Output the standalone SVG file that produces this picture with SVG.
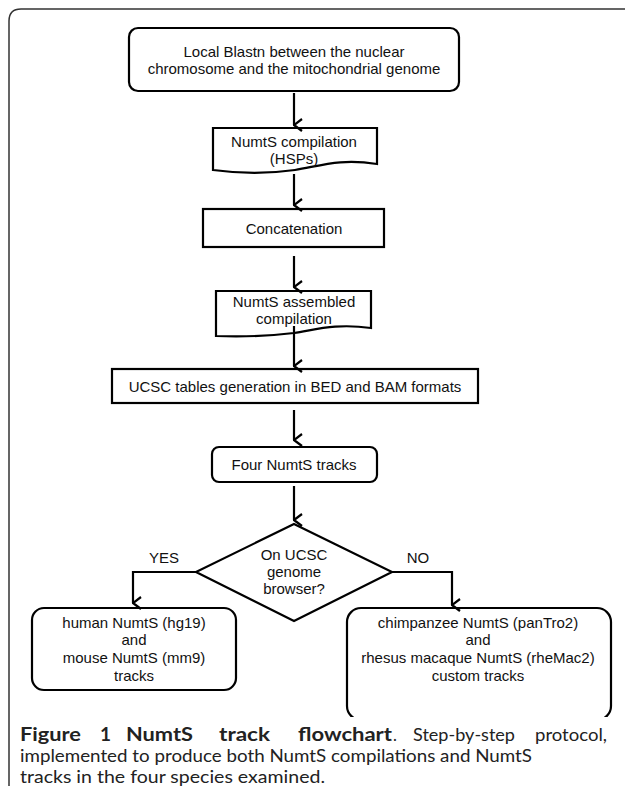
<svg xmlns="http://www.w3.org/2000/svg" width="625" height="786" viewBox="0 0 625 786">
<defs>
<marker id="arr" viewBox="0 0 14 12" refX="7" refY="11" markerWidth="14" markerHeight="12" markerUnits="userSpaceOnUse" orient="auto-start-reverse">
<polyline points="1,3 7,11 13,3" fill="none" stroke="#000" stroke-width="2.2"/>
</marker>
<clipPath id="clipChimp"><rect x="0" y="0" width="625" height="717"/></clipPath>
</defs>
<style>
.box{fill:#fff;stroke:#000;stroke-width:2.2}
.t{font-family:"Liberation Sans",Arial,sans-serif;font-size:15px;fill:#111;text-anchor:middle}
.c{stroke:#000;stroke-width:2.2;fill:none}
.cap{font-family:Lato,"Open Sans",sans-serif;font-size:16.5px;fill:#222}
.capb{font-weight:bold;font-size:19px}
</style>
<rect width="625" height="786" fill="#fff"/>
<path d="M9,786 V21 Q9,9 21,9 H640" fill="none" stroke="#333" stroke-width="1.5"/>

<g id="n1">
<rect class="box" x="129" y="28" width="330" height="63" rx="9"/>
<text class="t" x="294" y="57">Local Blastn between the nuclear</text>
<text class="t" x="294" y="74">chromosome and the mitochondrial genome</text>
</g>
<g id="n2">
<path class="box" d="M213,128 H377 V164 C340,158 320,166 295,170 C260,175 235,173 213,170 Z"/>
<text class="t" x="294" y="147">NumtS compilation</text>
<text class="t" x="294" y="164">(HSPs)</text>
</g>
<g id="n3">
<rect class="box" x="203" y="209" width="181" height="38"/>
<text class="t" x="294" y="234">Concatenation</text>
</g>
<g id="n4">
<path class="box" d="M216,291 H371 V328 C335,323 315,330 294,333 C260,337 240,337 216,336 Z"/>
<text class="t" x="294" y="307">NumtS assembled</text>
<text class="t" x="294" y="324">compilation</text>
</g>
<g id="n5">
<rect class="box" x="112" y="369" width="366" height="34"/>
<text class="t" x="295" y="392">UCSC tables generation in BED and BAM formats</text>
</g>
<g id="n6">
<rect class="box" x="212" y="447" width="165" height="35" rx="7"/>
<text class="t" x="294" y="470">Four NumtS tracks</text>
</g>
<g id="n7">
<polygon class="box" points="294,524 392,572 294,621 196,572"/>
<text class="t" x="294" y="560">On UCSC</text>
<text class="t" x="294" y="577">genome</text>
<text class="t" x="294" y="594">browser?</text>
</g>
<g id="n8">
<rect class="box" x="32" y="608" width="204" height="82" rx="12"/>
<text class="t" x="134" y="628">human NumtS (hg19)</text>
<text class="t" x="134" y="645">and</text>
<text class="t" x="134" y="663">mouse NumtS (mm9)</text>
<text class="t" x="134" y="681">tracks</text>
</g>
<g id="n9">
<rect class="box" x="347" y="608" width="264" height="112" rx="14" clip-path="url(#clipChimp)"/>
<text class="t" x="478" y="628">chimpanzee NumtS (panTro2)</text>
<text class="t" x="478" y="645">and</text>
<text class="t" x="478" y="663">rhesus macaque NumtS (rheMac2)</text>
<text class="t" x="478" y="681">custom tracks</text>
</g>

<g id="connectors">
<line class="c" x1="294" y1="93" x2="294" y2="125" marker-end="url(#arr)"/>
<line class="c" x1="294" y1="174" x2="294" y2="205" marker-end="url(#arr)"/>
<line class="c" x1="294" y1="256" x2="294" y2="287" marker-end="url(#arr)"/>
<line class="c" x1="294" y1="326" x2="294" y2="366" marker-end="url(#arr)"/>
<line class="c" x1="294" y1="410" x2="294" y2="440" marker-end="url(#arr)"/>
<line class="c" x1="294" y1="486" x2="294" y2="520" marker-end="url(#arr)"/>
<polyline class="c" points="196,572 133,572 133,603" marker-end="url(#arr)"/>
<polyline class="c" points="392,572 452,572 452,605" marker-end="url(#arr)"/>
<text class="t" x="164" y="563">YES</text>
<text class="t" x="418" y="563">NO</text>
</g>

<g id="caption">
<text class="cap capb" x="20" y="741" textLength="61" lengthAdjust="spacingAndGlyphs">Figure</text>
<text class="cap capb" x="100" y="741">1</text>
<text class="cap capb" x="126" y="741" textLength="67" lengthAdjust="spacingAndGlyphs">NumtS</text>
<text class="cap capb" x="219" y="741" textLength="51" lengthAdjust="spacingAndGlyphs">track</text>
<text class="cap capb" x="298" y="741" textLength="94" lengthAdjust="spacingAndGlyphs">flowchart</text>
<text class="cap" x="393" y="741">.</text>
<text class="cap" x="413" y="741" textLength="102" lengthAdjust="spacingAndGlyphs">Step-by-step</text>
<text class="cap" x="535" y="741" textLength="72" lengthAdjust="spacingAndGlyphs">protocol,</text>
<text class="cap" x="20" y="762" textLength="512" lengthAdjust="spacingAndGlyphs">implemented to produce both NumtS compilations and NumtS</text>
<text class="cap" x="20" y="782.5" textLength="305" lengthAdjust="spacingAndGlyphs">tracks in the four species examined.</text>
</g>
</svg>
